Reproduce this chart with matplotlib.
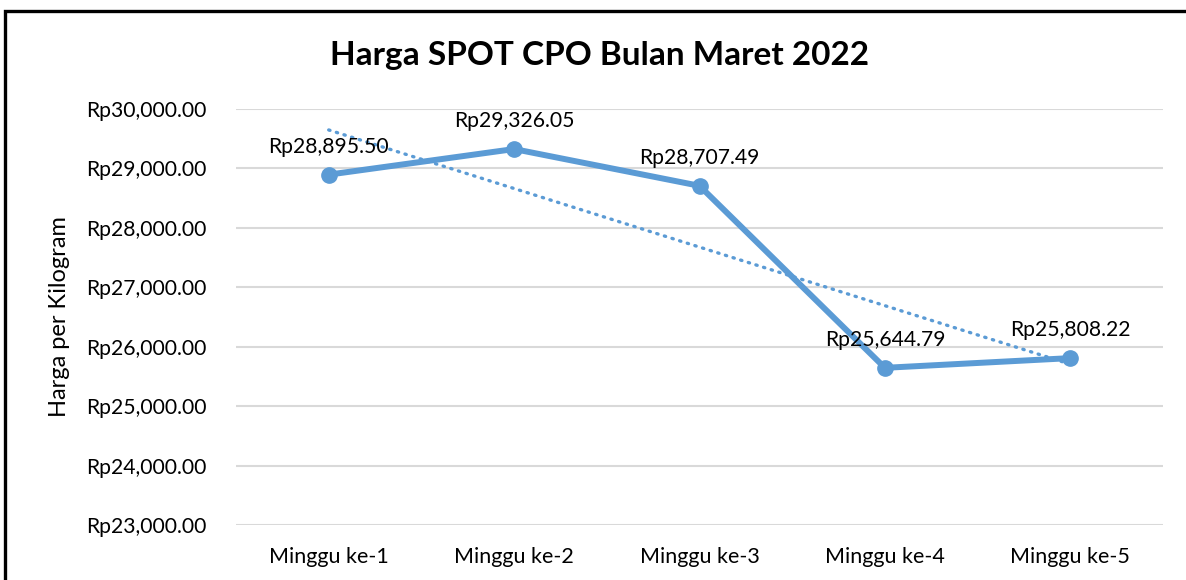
import matplotlib.pyplot as plt
import numpy as np
from matplotlib.patches import Rectangle
from matplotlib.ticker import FuncFormatter

plt.rcParams["font.family"] = ["Lato", "DejaVu Sans"]

WEEKS = ["Minggu ke-1", "Minggu ke-2", "Minggu ke-3", "Minggu ke-4", "Minggu ke-5"]
PRICES = [28895.50, 29326.05, 28707.49, 25644.79, 25808.22]
TITLE = "Harga SPOT CPO Bulan Maret 2022"
YLABEL = "Harga per Kilogram"

LINE_COLOR = "#5B9BD5"
W, H = 1186, 580


def rupiah(v, _pos=None):
    return f"Rp{v:,.2f}"


def main() -> None:
    fig = plt.figure(figsize=(W / 100, H / 100), dpi=100)
    ax = fig.add_axes([236 / W, 1 - 525 / H, (1163 - 236) / W, (525 - 109) / H])

    x = np.arange(1, len(PRICES) + 1)
    y = np.array(PRICES)

    # linear trendline like Excel
    slope, intercept = np.polyfit(x, y, 1)
    ax.plot(x, intercept + slope * x, color=LINE_COLOR, linewidth=2.4,
            linestyle=(0, (0.4, 2.0)), dash_capstyle="round", zorder=2)

    ax.plot(x, y, color=LINE_COLOR, linewidth=4.3, marker="o", markersize=11,
            zorder=3, solid_joinstyle="round")

    for xi, yi in zip(x, y):
        ax.annotate(rupiah(yi), (xi, yi), xytext=(0, 13), textcoords="offset points",
                    ha="center", va="bottom", fontsize=15.2, color="black")

    ax.set_xlim(0.5, len(PRICES) + 0.5)
    ax.set_ylim(23000, 30000)
    ax.set_yticks(np.arange(23000, 30001, 1000))
    ax.yaxis.set_major_formatter(FuncFormatter(rupiah))
    ax.set_xticks(x)
    ax.set_xticklabels(WEEKS)
    ax.tick_params(axis="both", length=0, colors="black")
    ax.tick_params(axis="y", pad=21, labelsize=15.2)
    ax.tick_params(axis="x", pad=16, labelsize=15.5)
    ax.grid(axis="y", color="#D9D9D9", linewidth=1.5)
    ax.set_axisbelow(True)
    for side in ax.spines.values():
        side.set_visible(False)

    fig.text(60 / W, 1 - 317 / H, YLABEL, rotation=90, ha="center", va="center", fontsize=17)
    fig.text(600 / W, 1 - 55 / H, TITLE, ha="center", va="center", fontsize=24, fontweight="bold")

    # outer chart border (bottom/right clipped in original)
    top = 1 - 11 / H
    fig.patches.append(Rectangle((5 / W, -0.05), 1.2, top + 0.05,
                                 transform=fig.transFigure, fill=False,
                                 edgecolor="black", linewidth=2.4))

    fig.savefig("out.png", dpi=100)
    plt.close(fig)


if __name__ == "__main__":
    main()
